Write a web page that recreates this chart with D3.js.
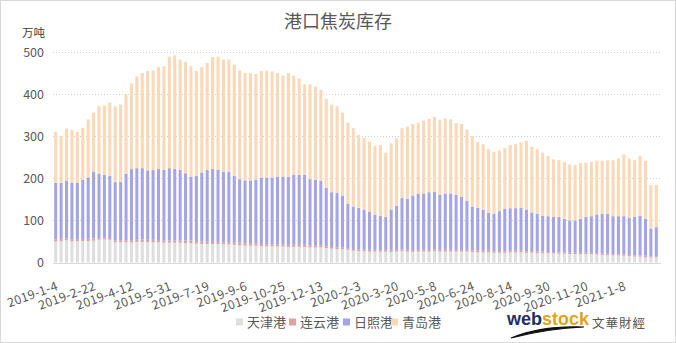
<!DOCTYPE html>
<html>
<head>
<meta charset="utf-8">
<script src="https://cdn.jsdelivr.net/npm/d3@7"></script>
<style>
  html, body { margin: 0; padding: 0; background: #fff; }
  svg { display: block; font-family: "Noto Sans CJK SC", "Noto Sans", sans-serif; }
</style>
</head>
<body>
<svg id="chart" width="676" height="343"></svg>
<script>
// Weekly report dates (one bar each)
const dates = [
  "2019-1-4","2019-1-11","2019-1-18","2019-1-25","2019-2-1","2019-2-8","2019-2-15","2019-2-22",
  "2019-3-1","2019-3-8","2019-3-15","2019-3-22","2019-3-29","2019-4-5","2019-4-12","2019-4-19",
  "2019-4-26","2019-5-3","2019-5-10","2019-5-17","2019-5-24","2019-5-31","2019-6-6","2019-6-14",
  "2019-6-21","2019-6-28","2019-7-5","2019-7-12","2019-7-19","2019-7-26","2019-8-2","2019-8-9",
  "2019-8-16","2019-8-23","2019-8-30","2019-9-6","2019-9-12","2019-9-20","2019-9-27","2019-10-4",
  "2019-10-11","2019-10-18","2019-10-25","2019-11-1","2019-11-8","2019-11-15","2019-11-22","2019-11-29",
  "2019-12-6","2019-12-13","2019-12-20","2019-12-27","2020-1-3","2020-1-10","2020-1-17","2020-1-23",
  "2020-2-3","2020-2-7","2020-2-14","2020-2-21","2020-2-28","2020-3-6","2020-3-13","2020-3-20",
  "2020-3-27","2020-4-3","2020-4-10","2020-4-17","2020-4-24","2020-4-30","2020-5-8","2020-5-15",
  "2020-5-22","2020-5-29","2020-6-5","2020-6-12","2020-6-19","2020-6-24","2020-7-3","2020-7-10",
  "2020-7-17","2020-7-24","2020-7-31","2020-8-7","2020-8-14","2020-8-21","2020-8-28","2020-9-4",
  "2020-9-11","2020-9-18","2020-9-25","2020-9-30","2020-10-9","2020-10-16","2020-10-23","2020-10-30",
  "2020-11-6","2020-11-13","2020-11-20","2020-11-27","2020-12-4","2020-12-11","2020-12-18","2020-12-25",
  "2020-12-31","2021-1-8","2021-1-15","2021-1-22","2021-1-29","2021-2-5","2021-2-10","2021-2-19"
];

// Category labels shown under the axis
const tickLabels = [
  "2019-1-4","2019-2-22","2019-4-12","2019-5-31","2019-7-19","2019-9-6","2019-10-25","2019-12-13",
  "2020-2-3","2020-3-20","2020-5-8","2020-6-24","2020-8-14","2020-9-30","2020-11-20","2021-1-8"
];

const yTicks = [0, 100, 200, 300, 400, 500];

// Stocks by port, 10k tonnes
const tianjin = [
  50,51,53,50,51,51,51,52,54,55,54,
  48,48,48,48,49,49,48,48,48,47,
  47,47,47,46,46,45,44,44,44,44,
  43,43,42,41,40,40,40,39,38,38,
  38,38,37,37,37,37,36,36,36,34,
  33,32,32,30,28,27,27,26,26,26,
  26,25,26,27,26,25,26,26,26,27,
  26,26,26,26,26,26,25,24,24,24,
  23,23,23,24,24,24,23,23,22,22,
  22,22,21,21,20,20,20,20,20,19,
  18,18,17,17,16,15,14,14,13,12,12
];
const lianyungang = [
  5,5,4,5,5,5,5,5,4,4,4,
  5,5,5,5,5,6,6,6,5,5,
  5,5,6,6,6,6,6,5,5,5,
  5,5,5,6,6,6,6,5,5,5,
  5,5,5,5,5,5,5,5,5,5,
  4,4,4,4,4,4,4,4,4,4,
  4,4,4,4,4,4,4,4,4,4,
  4,4,4,4,4,4,4,4,4,4,
  4,4,4,4,4,4,4,4,4,4,
  3,3,3,3,3,3,3,3,3,3,
  3,3,3,3,3,3,3,3,3,3,3
];
const rizhao = [
  134,133,137,135,134,141,146,159,153,149,148,
  138,138,158,169,170,169,165,166,169,168,
  172,170,167,160,152,155,164,171,173,171,
  168,168,159,151,149,149,151,158,159,159,
  161,161,161,166,166,166,157,156,153,138,
  130,129,123,106,101,99,95,90,84,81,
  78,97,105,122,121,130,133,134,137,137,
  131,134,134,131,126,117,104,102,98,90,
  89,95,100,101,101,102,99,92,90,85,
  85,83,84,80,77,77,81,85,87,92,
  95,95,90,90,91,89,91,94,88,66,69
];
const qingdao = [
  121,111,124,125,120,123,138,140,160,165,174,
  180,184,188,203,218,226,236,236,242,246,
  265,270,262,264,262,249,250,254,266,269,
  266,266,264,258,255,255,251,253,254,252,
  246,240,247,236,229,215,225,221,216,212,
  208,206,197,192,186,173,170,167,163,168,
  153,157,160,166,172,170,169,173,174,178,
  177,178,176,170,173,169,167,156,155,151,
  147,144,144,150,152,155,163,156,153,150,
  143,137,135,135,133,132,132,129,129,128,
  126,127,133,137,147,140,135,142,138,103,100
];

const seriesNames = ["天津港", "连云港", "日照港", "青岛港"];
const seriesColors = ["#dedede", "#e3a0a0", "#a4a4e6", "#fcd8b6"];

const svg = d3.select("#chart");
const W = 676, H = 343;
const plot = { left: 53, right: 659, top: 52, bottom: 262.5 };

// frame
svg.append("rect")
  .attr("x", 0.5).attr("y", 0.5).attr("width", W - 1).attr("height", H - 1)
  .attr("fill", "#fff").attr("stroke", "#d9d9d9");

// title and unit
svg.append("text").attr("x", 338).attr("y", 28).attr("text-anchor", "middle")
  .attr("font-size", 18).attr("fill", "#595959").text("港口焦炭库存");
svg.append("text").attr("x", 22).attr("y", 37)
  .attr("font-size", 11.5).attr("fill", "#404040").text("万吨");

const x = d3.scaleBand().domain(dates)
  .range([plot.left, plot.right]).paddingInner(0.44).paddingOuter(0.22);
const y = d3.scaleLinear().domain([0, 500]).range([plot.bottom, plot.top]);

// horizontal grid
svg.append("g").selectAll("line").data(yTicks.filter(d => d > 0)).join("line")
  .attr("x1", plot.left).attr("x2", plot.right + 2)
  .attr("y1", d => Math.round(y(d)) + 0.5).attr("y2", d => Math.round(y(d)) + 0.5)
  .attr("stroke", "#cfcfcf").attr("stroke-dasharray", "1,2");

// y axis labels
const yAxis = d3.axisLeft(y).tickValues(yTicks).tickSize(0).tickPadding(0);
const gy = svg.append("g").attr("transform", `translate(44,0)`).call(yAxis);
gy.select(".domain").remove();
gy.selectAll("text").attr("font-size", 12.5).attr("fill", "#595959")
  .attr("font-family", "'Noto Sans CJK SC', sans-serif");

// stacked bars
const rows = dates.map((d, i) => ({
  date: d,
  "天津港": tianjin[i], "连云港": lianyungang[i], "日照港": rizhao[i], "青岛港": qingdao[i]
}));
const stacked = d3.stack().keys(seriesNames)(rows);
svg.append("g").selectAll("g").data(stacked).join("g")
  .attr("fill", (d, i) => seriesColors[i])
  .selectAll("rect").data(d => d).join("rect")
  .attr("x", d => x(d.data.date))
  .attr("width", x.bandwidth())
  .attr("y", d => y(d[1]))
  .attr("height", d => y(d[0]) - y(d[1]));

// category axis
svg.append("line")
  .attr("x1", plot.left).attr("x2", plot.right + 2)
  .attr("y1", Math.round(plot.bottom) + 0.5).attr("y2", Math.round(plot.bottom) + 0.5)
  .attr("stroke", "#d9d9d9");

const xAxis = d3.axisBottom(x).tickValues(tickLabels).tickSize(0).tickPadding(0);
const gx = svg.append("g").attr("transform", `translate(0,${plot.bottom})`).call(xAxis);
gx.select(".domain").remove();
gx.selectAll(".tick text")
  .attr("font-size", 12.5).attr("fill", "#595959")
  .attr("font-family", "'Noto Sans CJK SC', sans-serif")
  .attr("letter-spacing", 0.3)
  .attr("text-anchor", "end").attr("dy", null).attr("y", null)
  .attr("transform", "translate(3,27) rotate(-20)");

// legend
const legendX = [236, 289, 343, 391];
const lg = svg.append("g").selectAll("g").data(seriesNames).join("g")
  .attr("transform", (d, i) => `translate(${legendX[i]},322)`);
lg.append("rect").attr("x", 0).attr("y", -3.5).attr("width", 7).attr("height", 7)
  .attr("fill", (d, i) => seriesColors[i]);
lg.append("text").attr("x", 11).attr("y", 5).attr("font-size", 13)
  .attr("fill", "#595959").text(d => d);

// publisher mark
const logo = svg.append("g");
logo.append("path")
  .attr("d", "M511,338 C535,328 560,326 584,327 C562,328 538,331 511,338 Z")
  .attr("fill", "#111").attr("stroke", "#111").attr("stroke-width", 1.2);
const lt = logo.append("text").attr("x", 507).attr("y", 325)
  .attr("font-family", "'Liberation Sans', Arial, sans-serif")
  .attr("font-weight", "bold").attr("font-size", 18);
lt.append("tspan").attr("fill", "#1c2f66").text("web");
lt.append("tspan").attr("fill", "#e3a21a").text("stock");
logo.append("text").attr("x", 592).attr("y", 328)
  .attr("font-size", 12.5).attr("letter-spacing", 1).attr("fill", "#555").text("文華財經");
</script>
</body>
</html>
